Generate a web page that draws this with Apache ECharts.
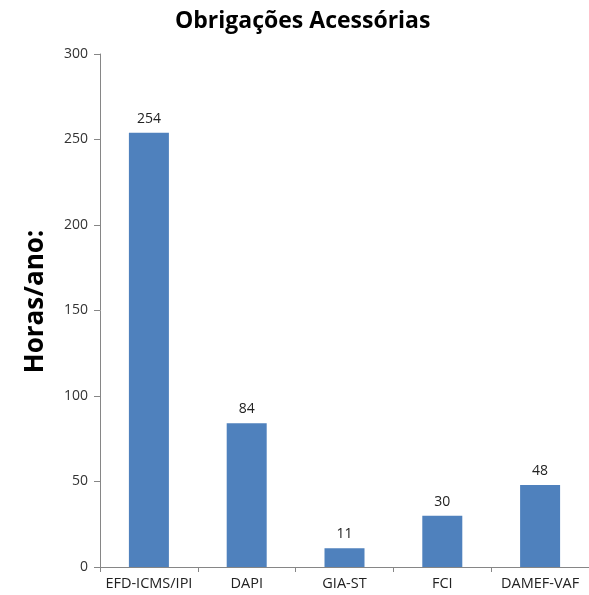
<!DOCTYPE html>
<html>
<head>
<meta charset="utf-8">
<script src="https://cdn.jsdelivr.net/npm/echarts@6/dist/echarts.min.js"></script>
<style>html,body{margin:0;padding:0;background:#fff}#c{width:589px;height:595px}</style>
</head>
<body>
<div id="c"></div>
<script>
const categories = ['EFD-ICMS/IPI', 'DAPI', 'GIA-ST', 'FCI', 'DAMEF-VAF'];
const hours = [254, 84, 11, 30, 48];
const yTicks = { min: 0, max: 300, interval: 50 };

const chart = echarts.init(document.getElementById('c'), null, { renderer: 'canvas' });
chart.setOption({
  animation: false,
  backgroundColor: '#ffffff',
  title: {
    text: 'Obrigações Acessórias',
    left: 170, top: 5,
    textStyle: { fontFamily: 'Open Sans', fontWeight: 'bold', fontSize: 23, color: '#000' }
  },
  grid: { left: 100, top: 54, width: 494, bottom: 28, containLabel: false },
  xAxis: {
    type: 'category', data: categories,
    axisLine: { lineStyle: { color: '#868686', width: 1 } },
    axisTick: { show: true, length: 5, lineStyle: { color: '#868686' } },
    axisLabel: { fontFamily: 'Open Sans', fontSize: 14.5, color: '#222', margin: 9, interval: 0 }
  },
  yAxis: {
    type: 'value', min: yTicks.min, max: yTicks.max, interval: yTicks.interval,
    name: 'Horas/ano:', nameLocation: 'middle', nameGap: 51,
    nameTextStyle: { fontFamily: 'Open Sans', fontWeight: 'bold', fontSize: 26, color: '#000', padding: [0, 0, 0, 18] },
    axisLine: { show: true, lineStyle: { color: '#868686', width: 1 } },
    axisTick: { show: true, length: 6, lineStyle: { color: '#868686' } },
    axisLabel: { fontFamily: 'Open Sans', fontSize: 14, color: '#333', margin: 12 },
    splitLine: { show: false }
  },
  series: [{
    type: 'bar', data: hours, barWidth: 40,
    itemStyle: { color: '#4F81BD' },
    label: { show: true, position: 'top', distance: 7, fontFamily: 'Open Sans', fontSize: 14, color: '#222' }
  }]
});
</script>
</body>
</html>
